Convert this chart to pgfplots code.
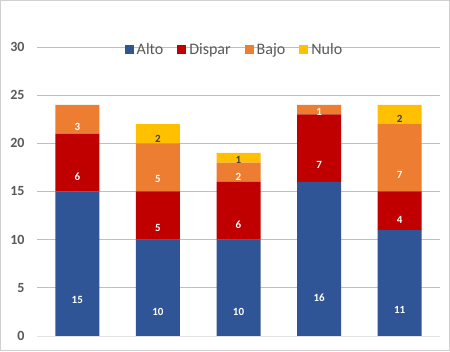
\documentclass[border=0pt]{standalone}
\usepackage{pgfplots}
\pgfplotsset{compat=1.18}
\usepackage{pgfplotstable}
\usepackage{fontspec}
\setmainfont{Carlito}
\definecolor{cAlto}{HTML}{2F5597}
\definecolor{cDispar}{HTML}{C00000}
\definecolor{cBajo}{HTML}{ED7D31}
\definecolor{cNulo}{HTML}{FFC000}
\definecolor{grid}{HTML}{E3E3E3}
\definecolor{frame}{HTML}{D0D0D0}
\definecolor{txt}{HTML}{595959}
\pgfplotstableread{
x alto dispar bajo nulo
0 15 6 3 0
1 10 5 5 2
2 10 6 2 1
3 16 7 1 0
4 11 4 7 2
}\data
\begin{document}
\begin{tikzpicture}[x=1pt,y=1pt]
\useasboundingbox (0,0) rectangle (450,351);
\draw[frame, line width=1pt] (0.5,0.5) rectangle (449.5,350.5);
\begin{axis}[
  at={(37pt,15pt)}, anchor=south west,
  scale only axis, width=403pt, height=289pt,
  xmin=-0.5, xmax=4.5, ymin=0, ymax=30,
  ybar stacked, bar width=44pt,
  axis line style={draw=none},
  xtick=\empty,
  ytick={0,5,...,30},
  ymajorgrids, grid style={grid, line width=0.8pt},
  major tick length=0pt,
  yticklabel style={font=\fontsize{14}{16}\selectfont\bfseries, text=txt, xshift=-9pt},
  /pgf/number format/assume math mode=true,
  clip=false,
  point meta=explicit symbolic,
  nodes near coords={\ifnum\pgfplotspointmeta=0 \else\pgfplotspointmeta\fi},
  every node near coord/.append style={font=\fontsize{11}{12}\selectfont\bfseries, text=white, anchor=center, yshift=-\pgfplotspointmeta*2.40833pt},
  legend style={draw=none, fill=none, at={(0.49,0.99)}, anchor=center, legend columns=4,
    font=\fontsize{16}{18}\selectfont, text=txt,
    /tikz/every odd column/.append style={column sep=1pt},
    /tikz/every even column/.append style={column sep=12pt}},
  legend image code/.code={\fill[#1] (0pt,-4.5pt) rectangle (9pt,4.5pt);},
]
\addplot[fill=cAlto, draw=none] table[x=x, y=alto, meta=alto] {\data};
\addplot[fill=cDispar, draw=none] table[x=x, y=dispar, meta=dispar] {\data};
\addplot[fill=cBajo, draw=none] table[x=x, y=bajo, meta=bajo] {\data};
\addplot[fill=cNulo, draw=none, every node near coord/.append style={text=black!75}] table[x=x, y=nulo, meta=nulo] {\data};
\draw[grid, line width=0.8pt] (axis cs:-0.5,0) -- (axis cs:4.5,0);
\legend{Alto, Dispar, Bajo, Nulo}
\end{axis}
\end{tikzpicture}
\end{document}
